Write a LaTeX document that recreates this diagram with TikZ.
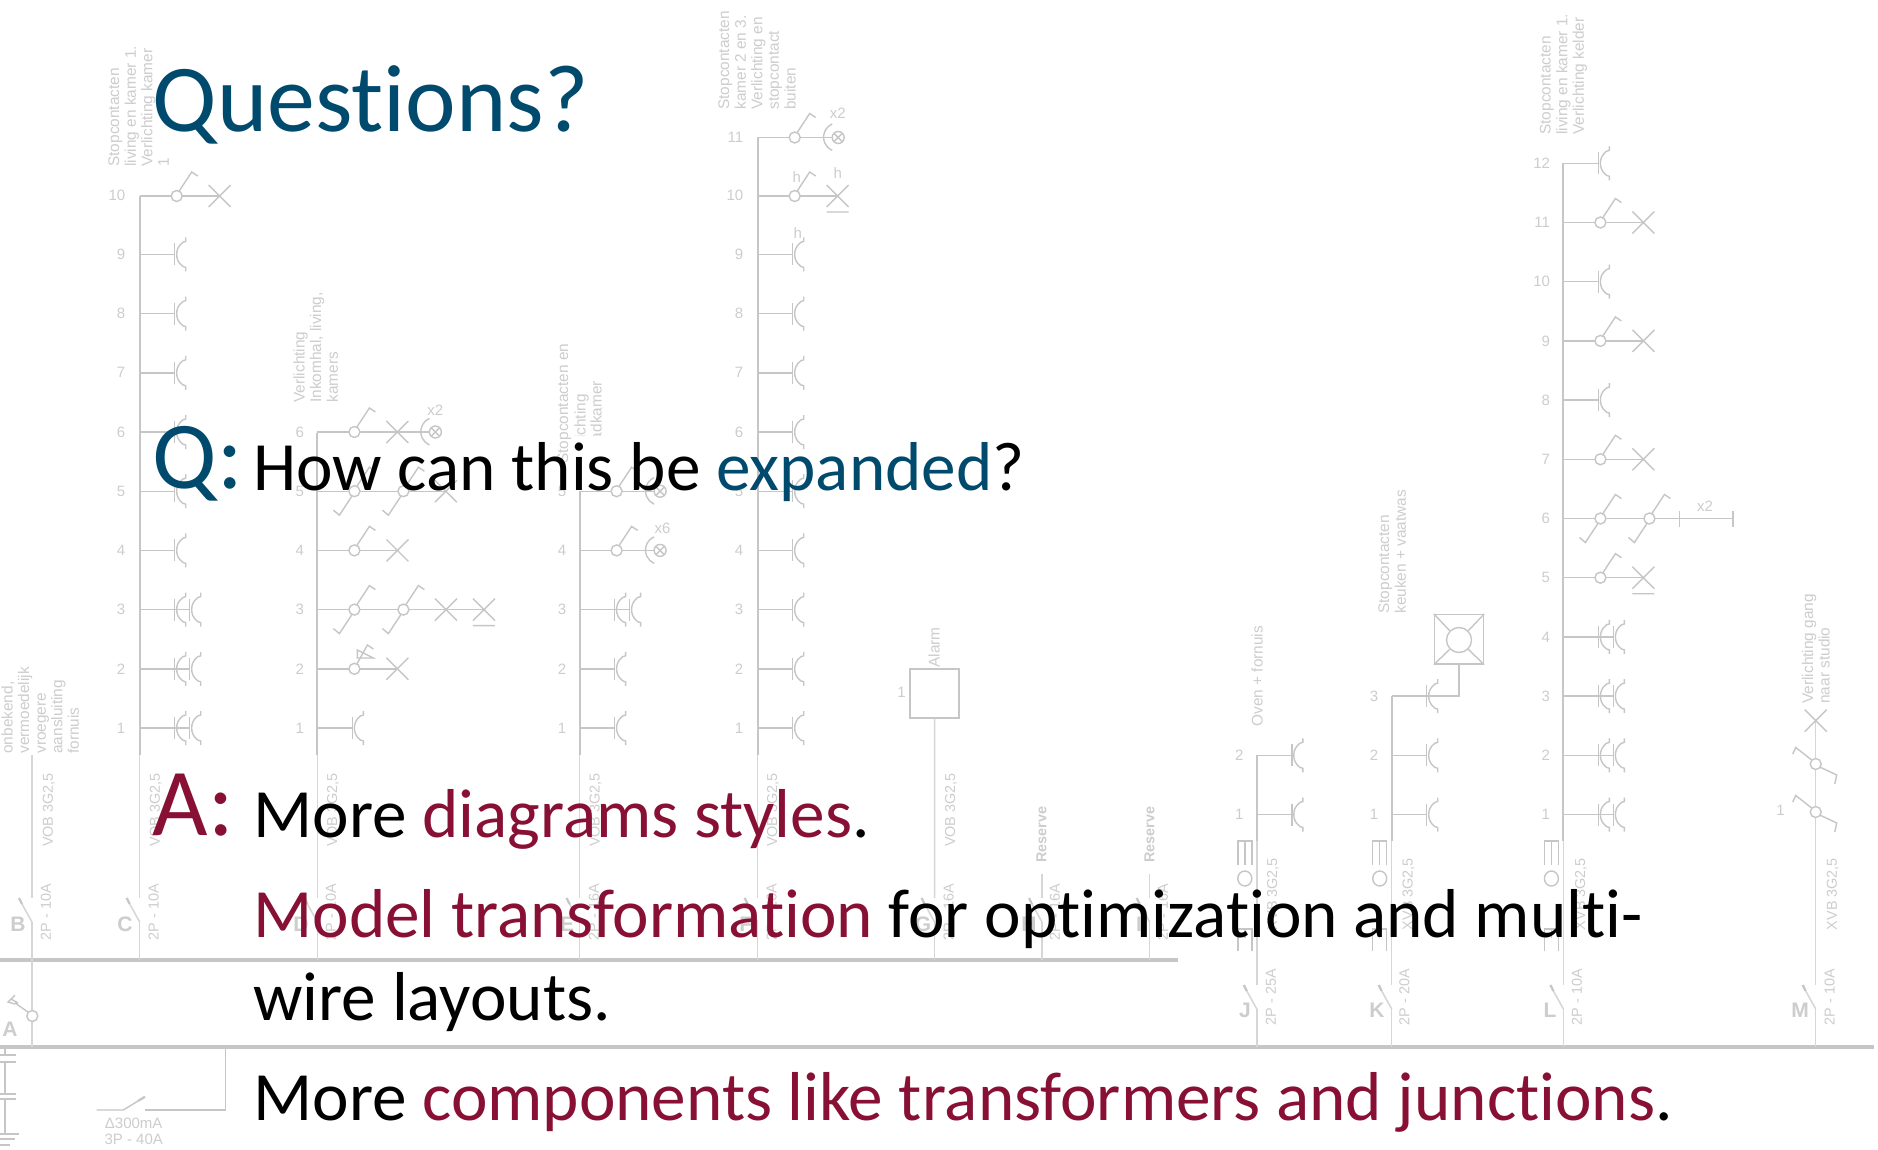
\documentclass[tikz,border=0pt]{standalone}
\usepackage{fontspec}
\setmainfont{Carlito}[Ligatures=NoCommon]
\newfontfamily\libsans{Liberation Sans}
\definecolor{qblue}{HTML}{004A6D}
\definecolor{qred}{HTML}{871034}
\definecolor{gline}{HTML}{C6C6C6}
\definecolor{glow}{HTML}{D6D6D6}
\definecolor{gtext}{HTML}{CDCDCD}
\tikzset{
  sym/.style={draw=gline,line width=0.7pt},
  colthick/.style={draw=gline,line width=1pt},
  colthin/.style={draw=glow,line width=0.75pt},
  busbar/.style={draw=gline,line width=1.8pt},
  lbl/.style={text=gtext,font=\libsans\fontsize{7.7}{8.3}\selectfont,rotate=90,anchor=north west,inner sep=0pt,align=left},
  num/.style={text=gtext,font=\libsans\fontsize{7.5}{9}\selectfont,anchor=east,inner sep=0pt},
  cbl/.style={text=gtext,font=\libsans\fontsize{7.2}{8}\selectfont,rotate=90,anchor=center,inner sep=0pt},
  letr/.style={text=gtext,font=\libsans\bfseries\fontsize{10.5}{12}\selectfont,anchor=center,inner sep=0pt},
  big/.style={font=\fontsize{47.9}{50}\selectfont,anchor=base west,inner sep=0pt},
  body/.style={font=\fontsize{34.6}{36}\selectfont,anchor=base west,inner sep=0pt},
  sockg/.pic={\draw[sym] (0,-11)--(0,11);
    \draw[sym] (11,-17)--(11,-13)--(8,-12) .. controls (3,-8) and (2,-4) .. (2,0) .. controls (2,4) and (3,8) .. (8,12)--(11,13)--(11,17);},
  crossg/.pic={\draw[sym] (-11,-11)--(11,11) (-11,11)--(11,-11);},
  crossu/.pic={\draw[sym] (-11,-11)--(11,11) (-11,11)--(11,-11) (-11,16)--(11,16);},
  lampg/.pic={\draw[sym,fill=white] (0,0) circle[radius=6]; \draw[sym] (-4,-4)--(4,4) (-4,4)--(4,-4);
    \draw[sym] (-6,-13.5) arc[start angle=246,end angle=114,radius=14.5];},
  swu/.pic={\draw[sym] (2.5,-5)--(15,-24)--(21,-20); \draw[sym,fill=white] (0,0) circle[radius=5.5];},
  swd/.pic={\draw[sym] (2.5,-5)--(15,-24)--(21,-20) (-2.5,5)--(-15,24)--(-21,19); \draw[sym,fill=white] (0,0) circle[radius=5.5];},
  swm/.pic={\draw[sym] (-4,-4)--(-20,-16.5)--(-23,-10) (4,3)--(21,11)--(19,20); \draw[sym,fill=white] (0,0) circle[radius=5.5];},
  rsock/.pic={\draw[sym] (0,0)--(35,0); \pic at (35,0) {sockg};},
  rdsock/.pic={\draw[sym] (0,0)--(50,0); \pic at (35,0) {sockg}; \pic at (50,0) {sockg};},
  rswx/.pic={\draw[sym] (0,0)--(80,0); \pic at (37,0) {swu}; \pic at (80,0) {crossg};},
  rswxu/.pic={\draw[sym] (0,0)--(80,0); \pic at (37,0) {swu}; \pic at (80,0) {crossu};},
  rswl/.pic={\draw[sym] (0,0)--(74,0); \pic at (37,0) {swu}; \pic at (80.5,0) {lampg};},
  brk/.pic={\draw[colthin] (0,0)--(0,-38); \draw[colthin] (0,-38)--(-10,-56); \draw[draw=gline,line width=1.1pt] (-10,-56)--(-13,-62);},
  eom/.pic={\draw[sym] (-7,24)--(-7,0)--(7,0)--(7,24) (0,0)--(0,24); \draw[sym] (0,37.5) ellipse[x radius=7,y radius=7.5];
    \draw[sym] (-7,110)--(-7,88)--(7,88)--(7,110) (0,88)--(0,97);},
}
\newcommand\Yup[1]{{728-(#1-1)*59.2}}
\newcommand\Ylo[1]{{814.5-(#1-1)*59.2}}
\begin{document}
\begin{tikzpicture}[x=0.5pt,y=-0.5pt]
\useasboundingbox (0,0) rectangle (1878,1150);
\fill[white] (0,0) rectangle (1878,1150);
% ---- busbars
\draw[busbar] (0,960) -- (1178,960);
\draw[busbar] (0,1047) -- (1874,1047);
% ---- column B and A
\draw[colthin] (32,755)--(32,898);
\pic at (32,960) {brk};
\draw[colthin] (32,960)--(32,1047);
\draw[sym] (28,1012)--(15,1003) (15,1004)--(8,1002)--(15,995) (11,999)--(18,1003);
\draw[sym,fill=white] (32.3,1016) circle[radius=5.5];
\node[letr] (lA) at (10,1029) {A};
\node[letr] (lB) at (18,924) {B};
\node[cbl] (cB) at (48.7,810) {VOB 3G2,5};
\node[cbl] (pB) at (46,912) {2P - 10A};
\node[lbl] (tB) at (1,754) {onbekend,\\vermoedelijk\\vroegere\\aansluiting\\fornuis};
% ---- column C
\draw[colthick] (139.7,196)--(139.7,755);
\draw[colthin] (139.7,755)--(139.7,898);
\pic at (139.7,960) {brk};
\begin{scope}[shift={(139.7,0)}]
\pic at (0,196) {rswx};
\foreach \n in {9,...,4} \pic at (0,\Yup{\n}) {rsock};
\foreach \n in {3,2,1} \pic at (0,\Yup{\n}) {rdsock};
\foreach \n in {1,...,10} \node[num] at (-14,\Yup{\n}) {\n};
\end{scope}
\node[lbl] (tC) at (108,167) {Stopcontacten\\living en kamer 1.\\Verlichting kamer\\1};
\node[letr] (lC) at (125,924) {C};
\node[cbl] (cC) at (155.7,810) {VOB 3G2,5};
\node[cbl] (pC) at (153.7,912) {2P - 10A};
% ---- column D
\draw[colthick] (317.4,433)--(317.4,755);
\draw[colthin] (317.4,755)--(317.4,898);
\pic at (317.4,960) {brk};
\begin{scope}[shift={(317.4,0)}]
\draw[sym] (0,\Yup{6})--(112,\Yup{6});
\pic at (37,\Yup{6}) {swu}; \pic at (80,\Yup{6}) {crossg}; \pic at (118,\Yup{6}) {lampg};
\node[num,anchor=center] at (118,410) {x2};
\draw[sym] (0,\Yup{5})--(128.5,\Yup{5});
\pic at (37,\Yup{5}) {swd}; \pic at (86,\Yup{5}) {swd}; \pic at (128.5,\Yup{5}) {crossg};
\pic at (0,\Yup{4}) {rswx};
\draw[sym] (0,\Yup{3})--(166.5,\Yup{3});
\pic at (37,\Yup{3}) {swd}; \pic at (86,\Yup{3}) {swd}; \pic at (128.5,\Yup{3}) {crossg}; \pic at (166.5,\Yup{3}) {crossu};
\draw[sym] (0,\Yup{2})--(80,\Yup{2});
\draw[sym] (39.5,664)--(50,645)--(56,649) (40,650)--(56,658)--(40,658)--cycle;
\draw[sym,fill=white] (37,\Yup{2}) circle[radius=5.5];
\pic at (80,\Yup{2}) {crossg};
\pic at (0,\Yup{1}) {rsock};
\foreach \n in {1,...,6} \node[num] at (-13,\Yup{\n}) {\n};
\end{scope}
\node[lbl] (tD) at (293,403) {Verlichting\\Inkomhal, living,\\kamers};
\node[letr] (lD) at (301,924) {D};
\node[cbl] (cD) at (333,810) {VOB 3G2,5};
\node[cbl] (pD) at (331,912) {2P - 10A};
% ---- column E
\draw[colthick] (579.6,491)--(579.6,755);
\draw[colthin] (579.6,755)--(579.6,898);
\pic at (579.6,960) {brk};
\begin{scope}[shift={(579.6,0)}]
\pic at (0,\Yup{5}) {rswl};
\pic at (0,\Yup{4}) {rswl};
\node[num,anchor=center] at (83,528) {x6};
\pic at (0,\Yup{3}) {rdsock};
\pic at (0,\Yup{2}) {rsock};
\pic at (0,\Yup{1}) {rsock};
\foreach \n in {1,...,5} \node[num] at (-13,\Yup{\n}) {\n};
\end{scope}
\node[lbl] (tE) at (557,464) {Stopcontacten en};
\node[lbl] (tE2) at (574,464) {verlichting};
\node[lbl] (tE3) at (590,450) {badkamer};
\fill[white] (573,436) rectangle (607,484);
\node[letr] (lE) at (567,924) {E};
\node[cbl] (cE) at (595.6,810) {VOB 3G2,5};
\node[cbl] (pE) at (594,912) {2P - 16A};
% ---- column F
\draw[colthick] (757.7,137.5)--(757.7,755);
\draw[colthin] (757.7,755)--(757.7,898);
\pic at (757.7,960) {brk};
\begin{scope}[shift={(757.7,0)}]
\pic at (0,137.5) {rswl};
\node[num,anchor=center] at (80,113.7) {x2};
\pic at (0,196) {rswxu};
\node[num,anchor=center] at (39,177) {h};
\node[num,anchor=center] at (80,173) {h};
\foreach \n in {9,...,1} \pic at (0,\Yup{\n}) {rsock};
\node[num,anchor=center] at (40,233) {h};
\foreach \n in {1,...,10} \node[num] at (-14,\Yup{\n}) {\n};
\node[num] at (-14,137.5) {11};
\end{scope}
\node[lbl] (tF) at (718,110) {Stopcontacten\\kamer 2 en 3.\\Verlichting en\\stopcontact\\buiten};
\node[letr] (lF) at (745.8,924) {F};
\node[cbl] (cF) at (773,810) {VOB 3G2,5};
\node[cbl] (pF) at (771.7,912) {2P - 16A};
% ---- alarm
\node[draw=gline,line width=0.7pt,minimum width=24.5pt,minimum height=24.5pt,inner sep=0pt] (alarm) at (934.5,693.5) {};
\draw[colthin] (alarm.south)--(934.6,898);
\pic at (934.6,960) {brk};
\node[num] (n1g) at (906,692) {1};
\node[lbl] (tG) at (928,668) {Alarm};
\node[letr] (lG) at (923,924) {G};
\node[cbl] (cG) at (951,810) {VOB 3G2,5};
\node[cbl] (pG) at (948.6,912) {2P - 16A};
% ---- reserves
\draw[colthin] (1042,874)--(1042,898); \pic at (1042,960) {brk};
\draw[colthin] (1149.7,874)--(1149.7,898); \pic at (1149.7,960) {brk};
\node[lbl,font=\libsans\bfseries\fontsize{7.2}{8.3}\selectfont] (tR1) at (1036,863) {Reserve};
\node[lbl,font=\libsans\bfseries\fontsize{7.2}{8.3}\selectfont] (tR2) at (1144,863) {Reserve};
\node[letr] (lH) at (1029,924) {H};
\node[letr] (lI) at (1139,924) {I};
\node[cbl] (pH) at (1055,912) {2P - 16A};
\node[cbl] (pI) at (1163,912) {2P - 16A};
% ---- column J
\draw[colthick] (1256.8,755)--(1256.8,841);
\draw[colthin] (1256.8,841)--(1256.8,985);
\pic at (1256.8,1047) {brk};
\begin{scope}[shift={(1256.8,0)}]
\foreach \n in {2,1} {\pic at (0,\Ylo{\n}) {rsock}; \node[num] at (-13,\Ylo{\n}) {\n};}
\end{scope}
\pic at (1244.8,841) {eom};
\node[lbl] (tJ) at (1251,727) {Oven + fornuis};
\node[letr] (lJ) at (1245,1010) {J};
\node[cbl] (cJ) at (1273,894) {XVB 3G2,5};
\node[cbl] (pJ) at (1270.8,997) {2P - 25A};
% ---- column K
\draw[colthick] (1391.7,696)--(1391.7,841);
\draw[colthin] (1391.7,841)--(1391.7,985);
\pic at (1391.7,1047) {brk};
\begin{scope}[shift={(1391.7,0)}]
\foreach \n in {3,2,1} {\pic at (0,\Ylo{\n}) {rsock}; \node[num] at (-13,\Ylo{\n}) {\n};}
\end{scope}
\node[draw=gline,line width=0.7pt,minimum width=24.5pt,minimum height=24.7pt,inner sep=0pt] (klamp) at (1459,639.3) {};
\node[draw=gline,line width=0.7pt,circle,minimum size=12.5pt,inner sep=0pt] (kc) at (1459,640) {};
\draw[sym] (klamp.north west)--(kc.north west) (klamp.north east)--(kc.north east) (klamp.south west)--(kc.south west) (klamp.south east)--(kc.south east);
\coordinate (kr) at (1459,696);
\draw[sym] (1426.7,696)--(kr)--(klamp.south);
\pic at (1379.7,841) {eom};
\node[lbl] (tK) at (1378,614) {Stopcontacten\\keuken + vaatwas};
\node[letr] (lK) at (1377,1010) {K};
\node[cbl] (cK) at (1408.5,894) {XVB 3G2,5};
\node[cbl] (pK) at (1404.5,997) {2P - 20A};
% ---- column L
\draw[colthick] (1563.4,163)--(1563.4,841);
\draw[colthin] (1563.4,841)--(1563.4,985);
\pic at (1563.4,1047) {brk};
\begin{scope}[shift={(1563.4,0)}]
\foreach \n in {12,10,8} \pic at (0,\Ylo{\n}) {rsock};
\foreach \n in {11,9,7} \pic at (0,\Ylo{\n}) {rswx};
\draw[sym] (0,\Ylo{6})--(169.7,\Ylo{6}) (115.8,511)--(115.8,527) (169.7,511)--(169.7,527);
\pic at (37,\Ylo{6}) {swd}; \pic at (86,\Ylo{6}) {swd};
\node[num,anchor=center] at (141.7,506) {x2};
\pic at (0,\Ylo{5}) {rswxu};
\foreach \n in {4,3,2,1} \pic at (0,\Ylo{\n}) {rdsock};
\foreach \n in {1,...,12} \node[num] at (-13,\Ylo{\n}) {\n};
\end{scope}
\pic at (1551.4,841) {eom};
\node[lbl] (tL) at (1539.5,135) {Stopcontacten\\living en kamer 1.\\Verlichting kelder};
\node[letr] (lL) at (1550,1010) {L};
\node[cbl] (cL) at (1581,894) {XVB 3G2,5};
\node[cbl] (pL) at (1577,997) {2P - 10A};
% ---- column M
\draw[colthin] (1815.7,720.6)--(1815.7,985);
\pic at (1815.7,1047) {brk};
\pic at (1815.7,720.6) {crossg};
\pic at (1815.7,764) {swm};
\pic at (1815.7,812) {swm};
\node[num] (n1m) at (1785,810) {1};
\node[lbl] (tM) at (1801.5,704) {Verlichting gang\\naar studio};
\node[letr] (lM) at (1800,1010) {M};
\node[cbl] (cM) at (1832.8,894) {XVB 3G2,5};
\node[cbl] (pM) at (1829.6,997) {2P - 10A};
% ---- bottom left
\draw[sym] (5,1047)--(5,1055) (5,1062)--(5,1094) (5,1099)--(5,1134);
\draw[sym] (0,1055)--(16,1055) (0,1062)--(16,1062) (0,1094)--(16,1094) (0,1099)--(16,1099)
  (0,1134)--(19,1134) (0,1139)--(15,1139) (0,1145)--(10,1145);
\draw[sym] (225.7,1047)--(225.7,1110)--(145,1110);
\draw[sym] (96.7,1110)--(123.3,1110)--(138,1101);
\draw[draw=gline,line width=1.1pt] (138,1101)--(145,1096.7);
\node[num,anchor=center] (rcd1) at (133.7,1123) {Δ300mA};
\node[num,anchor=center] (rcd2) at (133.7,1139) {3P - 40A};
% ---- slide text
\node[big,text=qblue] (title) at (152.5,132) {Questions?};
\node[big,text=qblue] (qq) at (152.5,488) {Q:};
\node[body] (qtext) at (253,490) {How can this be \textcolor{qblue}{expanded}?};
\node[big,text=qred] (aa) at (152.5,835) {A:};
\node[body] (a1) at (253,837) {More \textcolor{qred}{diagrams styles}.};
\node[body] (a2) at (253,937.5) {\textcolor{qred}{Model transformation} for optimization and multi-};
\node[body] (a3) at (253,1020.7) {wire layouts.};
\node[body] (a4) at (253,1120.8) {More \textcolor{qred}{components like transformers and junctions}.};
\end{tikzpicture}
\end{document}
